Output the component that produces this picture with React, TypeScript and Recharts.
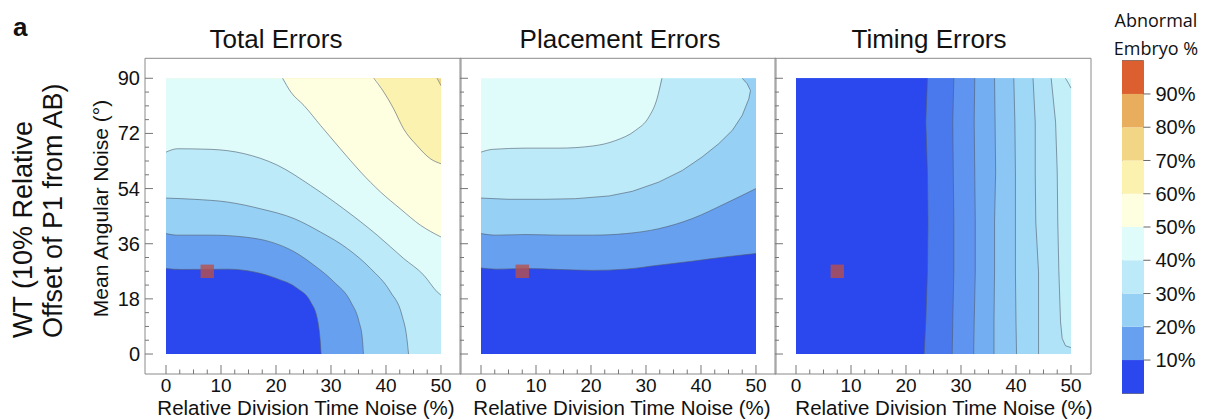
import React from 'react';
import {
  ComposedChart,
  Area,
  Line,
  Scatter,
  XAxis,
  YAxis,
  ReferenceArea,
  BarChart,
  Bar,
} from 'recharts';

const FONT = '"Liberation Sans", Arial, Helvetica, sans-serif';

type Pt = [number, number];
type Curve = 'monotoneX' | 'linear';

const X_TICKS = [0, 2.5, 5, 7.5, 10, 12.5, 15, 17.5, 20, 22.5, 25, 27.5, 30, 32.5, 35, 37.5, 40, 42.5, 45, 47.5, 50];
const X_MAJOR = [0, 10, 20, 30, 40, 50];
const Y_TICKS = [0, 4.5, 9, 13.5, 18, 22.5, 27, 31.5, 36, 40.5, 45, 49.5, 54, 58.5, 63, 67.5, 72, 76.5, 81, 85.5, 90];
const Y_MAJOR = [0, 18, 36, 54, 72, 90];

const LEVELS = [10, 20, 30, 40, 50, 60, 70, 80, 90];
const BAND_SPAN = [10, 10, 10, 10, 10, 10, 10, 10, 10, 10];
const BAND_COLORS = [
  '#2b47ee', '#68a0f0', '#96d0f5', '#bdeaf8', '#dffcfb',
  '#fefee0', '#fbf2b0', '#f2d585', '#e8ae5e', '#dc5f30',
];
// timing panel uses finer levels
const TIMING_COLORS = [
  '#2b47ee', '#4a79ee', '#5f94f0', '#74aef2', '#8cc6f4',
  '#9fd7f6', '#b0e3f7', '#c3eff8', '#d5f7f9',
];

// red square = WT parameters
const MARKER = [{ x: 7.5, y: 27 }];

// contour lines, [division time noise %, angular noise °]
const TOTAL_C10: Pt[] = [[0, 27.9], [2.7, 27.6], [11.2, 27.7], [16, 26.8], [20.2, 24.6], [23.9, 21.4], [26.3, 17], [27.5, 11.6], [28, 5.1], [28.2, 0]];
const TOTAL_C20: Pt[] = [[0, 39.3], [2.1, 38.8], [8.2, 38.8], [14.2, 38.2], [19, 36.6], [23.3, 33.4], [26.9, 29], [30.5, 23.6], [33.6, 17], [35.1, 10.5], [35.7, 5.1], [35.9, 0]];
const TOTAL_C30: Pt[] = [[0, 50.9], [5.1, 50.5], [11.2, 49.6], [17.2, 47.4], [23.3, 44.2], [28.1, 39.8], [33, 34.4], [37.2, 27.9], [40.8, 20.3], [42.9, 12.7], [43.8, 5.1], [44.1, 0]];
const TOTAL_C40: Pt[] = [[0, 65.9], [2.1, 67], [8.2, 66.8], [14.2, 65.4], [20.3, 61.6], [26.3, 55], [32.3, 47.4], [38.4, 38.8], [43.2, 31.2], [46.9, 25.7], [49.3, 20.3], [50, 19.2]];
const TOTAL_C50: Pt[] = [[21.2, 90], [22.7, 85.5], [25.1, 81.1], [28.1, 74.6], [31.7, 67], [35.4, 59.4], [39, 52.9], [42.6, 47.4], [46.3, 42], [50, 38.2]];
const TOTAL_C60: Pt[] = [[37.8, 90], [39.6, 85.5], [41.4, 80], [43.2, 73.5], [45.6, 68.1], [48.1, 63.7], [50, 62.1]];
const TOTAL_C70: Pt[] = [[49.3, 90], [50, 87.6]];

const PLACE_C10: Pt[] = [[0, 28.1], [2.7, 27.7], [8.2, 27.9], [14.2, 27.6], [20.3, 27.3], [26.3, 27.7], [32.3, 29], [38.4, 30.3], [44.4, 31.7], [50, 32.8]];
const PLACE_C20: Pt[] = [[0, 39.3], [2.7, 38.8], [8.2, 39], [14.2, 38.8], [20.3, 38.8], [26.3, 39.3], [32.3, 40.9], [38.4, 44.2], [44.4, 49.1], [50, 54]];
const PLACE_C30: Pt[] = [[0, 50.9], [5.1, 50.5], [11.2, 50.5], [17.2, 50.7], [23.3, 51.6], [27.5, 53.1], [32.3, 56.1], [36.6, 59.9], [40.2, 64.3], [43.2, 68.6], [45.7, 73], [47.5, 77.9], [48.7, 83.3], [49, 86], [48.4, 88.2], [47.5, 90]];
const PLACE_C40: Pt[] = [[0, 65.9], [2.1, 66.8], [8.2, 67.2], [14.2, 67.2], [20.3, 67.9], [24.5, 69.7], [28.1, 73], [30.5, 77.3], [32, 83.3], [32.9, 90]];

const TIMING_L1: Pt[] = [[23.9, 90], [23.6, 75.7], [23.9, 59.4], [24, 43.1], [23.9, 26.8], [23.6, 10.5], [23.3, 0]];
const TIMING_L2: Pt[] = [[28.7, 90], [28.5, 75.7], [28.6, 59.4], [28.7, 43.1], [28.7, 26.8], [28.5, 10.5], [28.4, 0]];
const TIMING_L3: Pt[] = [[32.5, 90], [32.4, 75.7], [32.5, 59.4], [32.6, 43.1], [32.6, 26.8], [32.4, 10.5], [32.3, 0]];
const TIMING_L4: Pt[] = [[36.1, 90], [36.2, 75.7], [36.3, 59.4], [36.1, 43.1], [36.1, 26.8], [36, 10.5], [36, 0]];
const TIMING_L5: Pt[] = [[39.6, 90], [39.8, 75.7], [39.9, 59.4], [39.9, 43.1], [39.9, 26.8], [40, 10.5], [40.1, 0]];
const TIMING_L6: Pt[] = [[43.1, 90], [43.5, 75.7], [43.5, 59.4], [43.6, 43.1], [44.1, 26.8], [44.1, 10.5], [44.1, 0]];
const TIMING_L7: Pt[] = [[46.4, 90], [47.2, 75.7], [47.5, 59.4], [47.6, 43.1], [47.8, 26.8], [48.1, 10.5], [48.4, 5.1], [49, 2.7], [50, 2.1]];
const TIMING_L8: Pt[] = [[49, 90], [49.6, 88.2], [50, 86.8]];

const TOP: Pt[] = [[0, 90]];
const TOP_RIGHT: Pt[] = [[50, 90]];
const FULL: Pt[] = [[0, 90], [50, 90]];

interface Layer {
  pts: Pt[];
  fill: string;
  curve: Curve;
  pre?: Pt[];
  post?: Pt[];
  line?: boolean;
}

const TOTAL_LAYERS: Layer[] = [
  { pts: FULL, fill: BAND_COLORS[7], curve: 'linear', line: false },
  { pts: TOTAL_C70, pre: TOP, fill: BAND_COLORS[6], curve: 'monotoneX' },
  { pts: TOTAL_C60, pre: TOP, fill: BAND_COLORS[5], curve: 'monotoneX' },
  { pts: TOTAL_C50, pre: TOP, fill: BAND_COLORS[4], curve: 'monotoneX' },
  { pts: TOTAL_C40, fill: BAND_COLORS[3], curve: 'monotoneX' },
  { pts: TOTAL_C30, fill: BAND_COLORS[2], curve: 'monotoneX' },
  { pts: TOTAL_C20, fill: BAND_COLORS[1], curve: 'monotoneX' },
  { pts: TOTAL_C10, fill: BAND_COLORS[0], curve: 'monotoneX' },
];

const PLACE_LAYERS: Layer[] = [
  { pts: FULL, fill: BAND_COLORS[4], curve: 'linear', line: false },
  { pts: PLACE_C40, post: TOP_RIGHT, fill: BAND_COLORS[3], curve: 'monotoneX' },
  { pts: PLACE_C30, post: TOP_RIGHT, fill: BAND_COLORS[2], curve: 'linear' },
  { pts: PLACE_C20, fill: BAND_COLORS[1], curve: 'monotoneX' },
  { pts: PLACE_C10, fill: BAND_COLORS[0], curve: 'monotoneX' },
];

const TIMING_LAYERS: Layer[] = [
  { pts: FULL, fill: TIMING_COLORS[8], curve: 'linear', line: false },
  { pts: TIMING_L8, pre: TOP, fill: TIMING_COLORS[7], curve: 'linear' },
  { pts: TIMING_L7, pre: TOP, fill: TIMING_COLORS[6], curve: 'linear' },
  { pts: TIMING_L6, pre: TOP, fill: TIMING_COLORS[5], curve: 'linear' },
  { pts: TIMING_L5, pre: TOP, fill: TIMING_COLORS[4], curve: 'linear' },
  { pts: TIMING_L4, pre: TOP, fill: TIMING_COLORS[3], curve: 'linear' },
  { pts: TIMING_L3, pre: TOP, fill: TIMING_COLORS[2], curve: 'linear' },
  { pts: TIMING_L2, pre: TOP, fill: TIMING_COLORS[1], curve: 'linear' },
  { pts: TIMING_L1, pre: TOP, fill: TIMING_COLORS[0], curve: 'linear' },
];

// one table per panel: each layer gets its own key, nulls elsewhere
function buildRows(layers: Layer[]) {
  const rows: Record<string, number>[] = [];
  layers.forEach((layer, i) => {
    [...(layer.pre ?? []), ...layer.pts, ...(layer.post ?? [])].forEach(([x, y]) =>
      rows.push({ x, [`a${i}`]: y }),
    );
    if (layer.line !== false) {
      layer.pts.forEach(([x, y]) => rows.push({ x, [`l${i}`]: y }));
    }
  });
  return rows;
}

const X_DOMAIN = [-3.82, 53.64];
const Y_DOMAIN = [-6.52, 96.52];

const renderXTick = (props: any) => {
  const { x, y, payload } = props;
  const major = X_MAJOR.includes(payload.value);
  return (
    <g>
      <line x1={x} x2={x} y1={y} y2={y - (major ? 9 : 4.5)} stroke="#777" strokeWidth={1} />
      {major && (
        <text x={x} y={y + 17.5} textAnchor="middle" fontSize={19} fontFamily={FONT} fill="#111">
          {payload.value}
        </text>
      )}
    </g>
  );
};

const makeYTick = (withLabels: boolean) => (props: any) => {
  const { x, y, payload } = props;
  const major = Y_MAJOR.includes(payload.value);
  return (
    <g>
      <line x1={x} x2={x + (major ? 8 : 4)} y1={y} y2={y} stroke="#777" strokeWidth={1} />
      {withLabels && major && (
        <text x={x - 5} y={y + 7} textAnchor="end" fontSize={20} fontFamily={FONT} fill="#111">
          {payload.value}
        </text>
      )}
    </g>
  );
};

const renderMarker = (props: any) => (
  <rect x={props.cx - 6.7} y={props.cy - 6.7} width={13.4} height={13.4} fill="#b8504a" fillOpacity={0.8} />
);

function Panel({ left, layers, yLabels }: { left: number; layers: Layer[]; yLabels: boolean }) {
  const rows = buildRows(layers);
  return (
    <div style={{ position: 'absolute', left: left - 60, top: 50 }}>
      <ComposedChart width={380} height={369} data={rows} margin={{ top: 8.3, right: 4, bottom: 44, left: 59 }}>
        <XAxis
          dataKey="x"
          type="number"
          domain={X_DOMAIN}
          allowDataOverflow
          ticks={X_TICKS}
          interval={0}
          height={1}
          tickSize={0}
          tickMargin={0}
          tickLine={false}
          axisLine={false}
          tick={renderXTick}
        />
        <YAxis
          type="number"
          domain={Y_DOMAIN}
          allowDataOverflow
          ticks={Y_TICKS}
          interval={0}
          width={1}
          tickSize={0}
          tickMargin={0}
          tickLine={false}
          axisLine={false}
          tick={makeYTick(yLabels)}
        />
        {layers.map((l, i) => (
          <Area
            key={`a${i}`}
            dataKey={`a${i}`}
            type={l.curve}
            fill={l.fill}
            fillOpacity={1}
            stroke="none"
            connectNulls
            dot={false}
            activeDot={false}
            isAnimationActive={false}
          />
        ))}
        {layers.map((l, i) =>
          l.line === false ? null : (
            <Line
              key={`l${i}`}
              dataKey={`l${i}`}
              type={l.curve}
              stroke="#4f5b6b"
              strokeWidth={0.7}
              strokeOpacity={0.85}
              connectNulls
              dot={false}
              activeDot={false}
              isAnimationActive={false}
            />
          ),
        )}
        <Scatter data={MARKER} dataKey="y" shape={renderMarker} isAnimationActive={false} />
        <ReferenceArea
          x1={X_DOMAIN[0]}
          x2={X_DOMAIN[1]}
          y1={Y_DOMAIN[0]}
          y2={Y_DOMAIN[1]}
          ifOverflow="visible"
          fill="none"
          stroke="#8a8a8a"
          strokeWidth={1}
        />
      </ComposedChart>
    </div>
  );
}

function ColorBar() {
  const row: Record<string, string | number> = { name: 'pct' };
  BAND_SPAN.forEach((v, i) => (row[`b${i}`] = v));
  return (
    <div style={{ position: 'absolute', left: 1122, top: 50 }}>
      <BarChart width={100} height={360} data={[row]} margin={{ top: 10.7, right: 0, bottom: 16.7, left: 0 }} barCategoryGap={0}>
        <XAxis dataKey="name" hide />
        <YAxis
          orientation="right"
          type="number"
          domain={[0, 100]}
          ticks={LEVELS}
          interval={0}
          width={78.5}
          axisLine={false}
          tickSize={7}
          tickMargin={5}
          tickLine={{ stroke: '#666' }}
          tick={{ fontSize: 20, fill: '#111', fontFamily: FONT }}
          tickFormatter={(v: number) => `${v}%`}
        />
        {BAND_COLORS.map((c, i) => (
          <Bar key={i} dataKey={`b${i}`} stackId="cb" fill={c} isAnimationActive={false} />
        ))}
        <ReferenceArea y1={0} y2={100} ifOverflow="visible" fill="none" stroke="#555" strokeWidth={1} />
      </BarChart>
    </div>
  );
}

export default function App() {
  const txt = { fontFamily: FONT, fill: '#111' };
  return (
    <div style={{ position: 'absolute', left: 0, top: 0, width: 1213, height: 419, background: '#fff' }}>
      <Panel left={145} layers={TOTAL_LAYERS} yLabels />
      <Panel left={460} layers={PLACE_LAYERS} yLabels={false} />
      <Panel left={775} layers={TIMING_LAYERS} yLabels={false} />
      <ColorBar />
      <svg width={1213} height={419} style={{ position: 'absolute', left: 0, top: 0, pointerEvents: 'none' }}>
        <text x={13} y={36} fontSize={26} fontWeight="bold" {...txt}>a</text>
        <text x={276} y={48} fontSize={26} textAnchor="middle" {...txt}>Total Errors</text>
        <text x={620} y={48} fontSize={26} textAnchor="middle" {...txt}>Placement Errors</text>
        <text x={929} y={48} fontSize={26} textAnchor="middle" {...txt}>Timing Errors</text>
        <text x={306} y={414.5} fontSize={20.5} textAnchor="middle" {...txt}>Relative Division Time Noise (%)</text>
        <text x={622} y={414.5} fontSize={20.5} textAnchor="middle" {...txt}>Relative Division Time Noise (%)</text>
        <text x={944} y={414.5} fontSize={20.5} textAnchor="middle" {...txt}>Relative Division Time Noise (%)</text>
        <text transform="translate(108,208.5) rotate(-90)" fontSize={21} textAnchor="middle" {...txt}>
          Mean Angular Noise (°)
        </text>
        <text transform="translate(32,338) rotate(-90)" fontSize={27} {...txt}>WT (10% Relative</text>
        <text transform="translate(62,338) rotate(-90)" fontSize={27} {...txt}>Offset of P1 from AB)</text>
        <text x={1156} y={27} fontSize={18} textAnchor="middle" fontFamily='"Open Sans", sans-serif' fill="#111">
          Abnormal
        </text>
        <text x={1156} y={55} fontSize={18} textAnchor="middle" fontFamily='"Open Sans", sans-serif' fill="#111">
          Embryo %
        </text>
      </svg>
    </div>
  );
}
